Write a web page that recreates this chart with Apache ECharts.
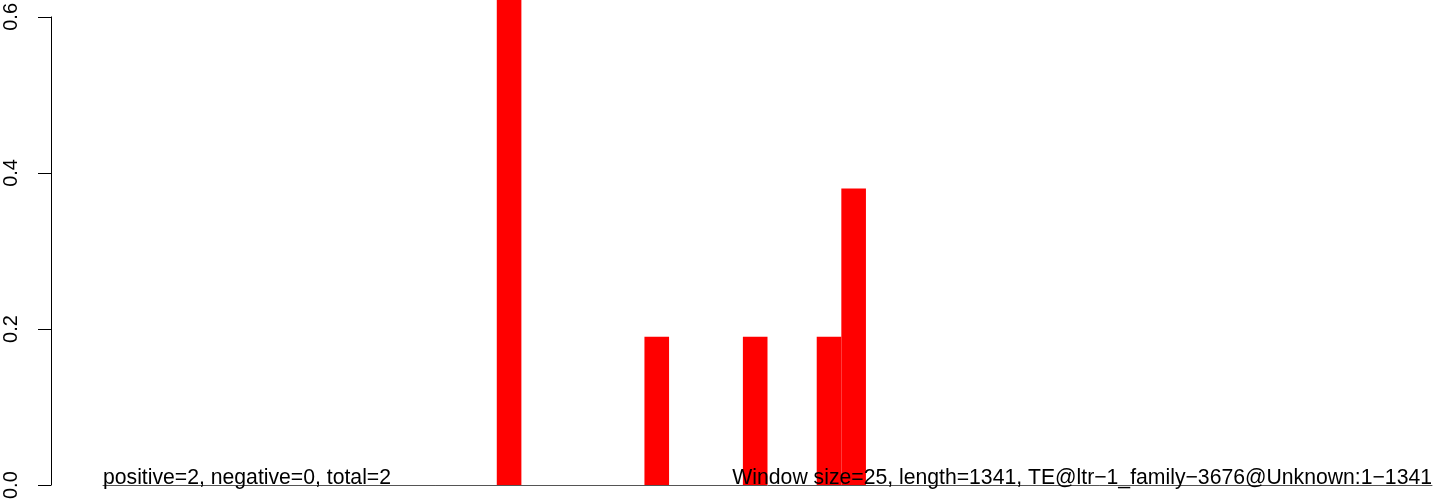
<!DOCTYPE html>
<html>
<head>
<meta charset="utf-8">
<script src="https://cdn.jsdelivr.net/npm/echarts@6/dist/echarts.min.js"></script>
<style>
html,body{margin:0;padding:0;background:#fff;}
#chart{width:1444px;height:502px;}
</style>
</head>
<body>
<div id="chart"></div>
<script>
// window size 25 over length 1341 -> window start positions
var windowStarts = [0,25,50,75,100,125,150,175,200,225,250,275,300,325,350,375,400,425,450,475,500,525,550,575,600,625,650,675,700,725,750,775,800,825,850,875,900,925,950,975,1000,1025,1050,1075,1100,1125,1150,1175,1200,1225,1250,1275,1300,1325];
// non-zero windows (start -> value)
var hitStarts = [400, 550, 650, 725, 750];
var hitValues = [0.76, 0.19, 0.19, 0.19, 0.38];
var yTicks = [0.0, 0.2, 0.4, 0.6];
var leftText = 'positive=2, negative=0, total=2';
var rightText = 'Window size=25, length=1341, TE@ltr\u22121_family\u22123676@Unknown:1\u22121341';

var seriesData = windowStarts.map(function (s) {
  var i = hitStarts.indexOf(s);
  return i >= 0 ? hitValues[i] : 0;
});

var FONT = 'Liberation Sans, Arial, Helvetica, sans-serif';
var chart = echarts.init(document.getElementById('chart'), null, {renderer: 'canvas'});
chart.setOption({
  animation: false,
  backgroundColor: '#ffffff',
  grid: {left: 103, right: 12, top: 15.5, bottom: 15.5, containLabel: false},
  xAxis: {
    type: 'category',
    data: windowStarts.map(String),
    boundaryGap: true,
    axisLine: {show: true, lineStyle: {color: '#555555', width: 1}},
    axisTick: {show: false},
    axisLabel: {show: false},
    splitLine: {show: false}
  },
  yAxis: {
    type: 'value',
    min: yTicks[0],
    max: yTicks[yTicks.length - 1],
    interval: 0.2,
    offset: 52,
    axisLine: {show: true, lineStyle: {color: '#000', width: 1}},
    axisTick: {show: true, length: 13, lineStyle: {color: '#000', width: 1}},
    axisLabel: {
      show: true,
      rotate: 90,
      margin: 30,
      color: '#000',
      fontSize: 20,
      fontFamily: FONT,
      formatter: function (v) { return v.toFixed(1); }
    },
    splitLine: {show: false}
  },
  series: [{
    type: 'bar',
    data: seriesData,
    barCategoryGap: '0%',
    clip: false,
    itemStyle: {color: '#ff0000'},
    z: 1
  }],
  graphic: [
    {type: 'text', left: 103, bottom: 13, z: 10,
     style: {text: leftText, fill: '#000', font: '21.2px ' + FONT}},
    {type: 'text', right: 12, bottom: 13, z: 10,
     style: {text: rightText, fill: '#000', font: '21.2px ' + FONT}}
  ]
});
</script>
</body>
</html>
